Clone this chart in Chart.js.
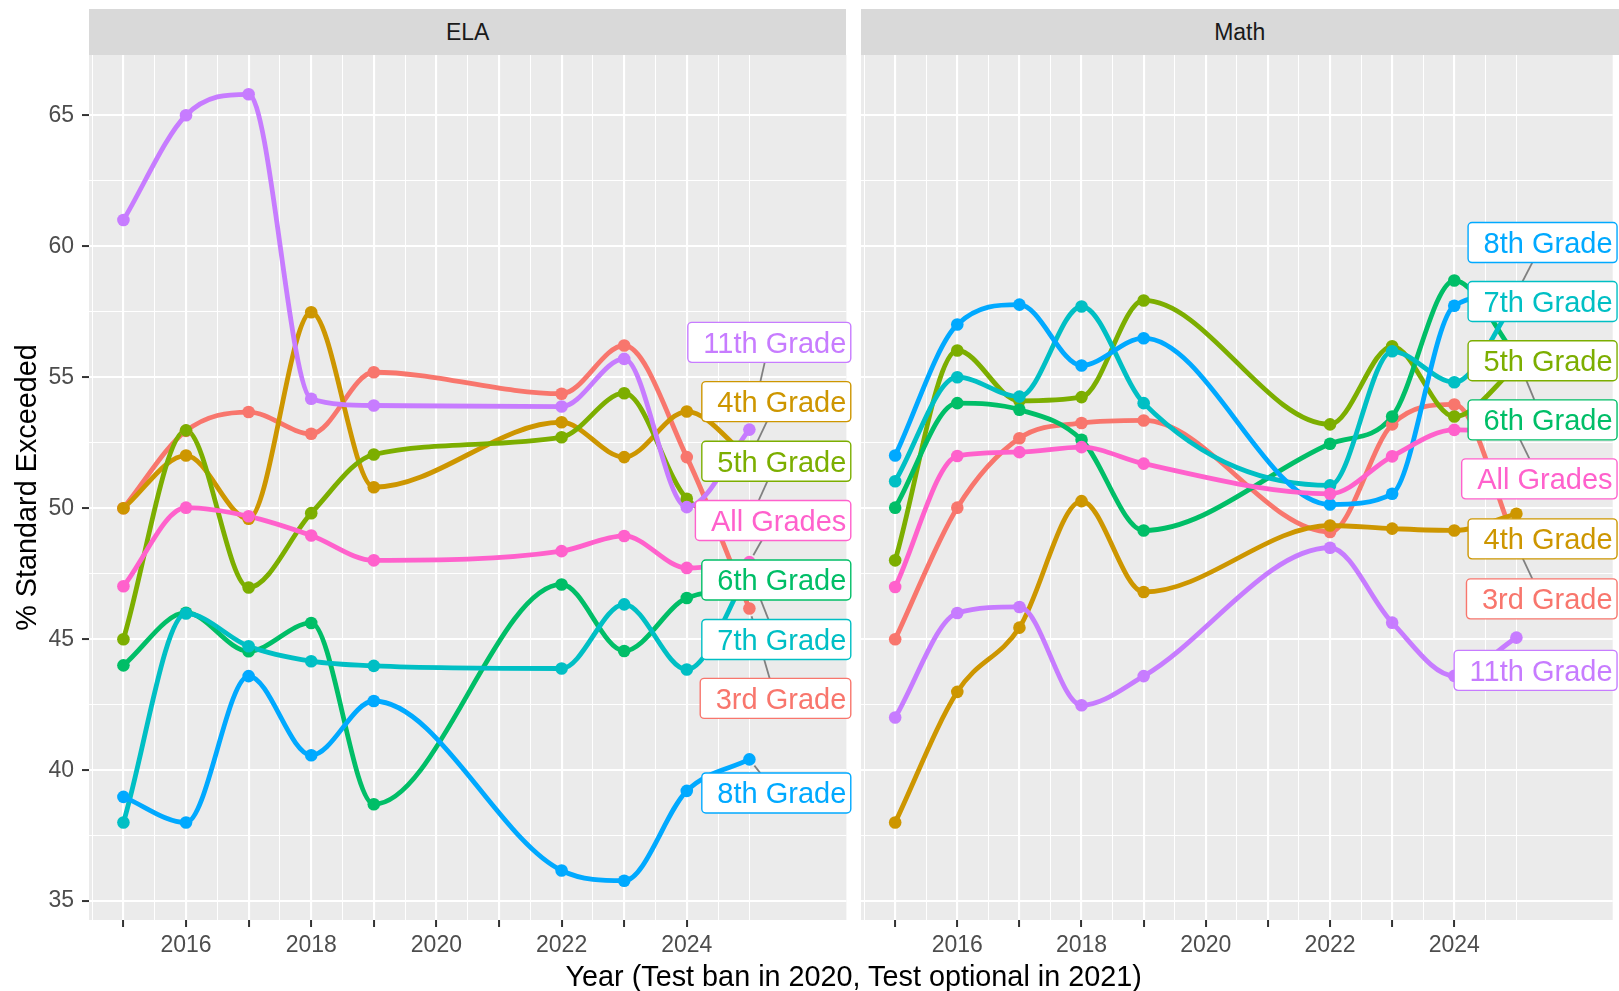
<!DOCTYPE html>
<html>
<head>
<meta charset="utf-8">
<script src="https://cdn.jsdelivr.net/npm/chart.js@4.4.1/dist/chart.umd.min.js"></script>
<style>
  html, body { margin: 0; padding: 0; background: #fff; }
  #wrap { position: relative; width: 1619px; height: 991px; overflow: hidden; font-family: "Liberation Sans", Arial, sans-serif; }
  #wrap canvas { position: absolute; left: 0; top: 0; }
  .strip { position: absolute; top: 9px; height: 46px; background: #D9D9D9; color: #1A1A1A; font-size: 23px; line-height: 46px; text-align: center; }
  #xtitle { position: absolute; left: 853.7px; top: 959px; transform: translateX(-50%); font-size: 28.8px; line-height: 34px; color: #000; white-space: nowrap; }
</style>
</head>
<body>
<div id="wrap">
  <canvas id="ela" width="1619" height="991"></canvas>
  <canvas id="math" width="1619" height="991"></canvas>
  <div class="strip" style="left:89px;width:757.4px">ELA</div>
  <div class="strip" style="left:861px;width:757.5px">Math</div>
  <div id="xtitle">Year (Test ban in 2020, Test optional in 2021)</div>
</div>
<script>
// test years (no test in 2020 / 2021)
const years = [2015, 2016, 2017, 2018, 2019, 2022, 2023, 2024, 2025];
const grades = ['3rd Grade', '4th Grade', '5th Grade', '6th Grade', '7th Grade', '8th Grade', '11th Grade', 'All Grades'];
const colors = ['#F8766D', '#CD9600', '#7CAE00', '#00BE67', '#00BFC4', '#00A9FF', '#C77CFF', '#FF61CC'];

// % standard exceeded, ELA
const ela3rd  = [50.0, 52.95, 53.67, 52.84, 55.19, 54.37, 56.21, 51.95, 46.17];
const ela4th  = [50.0, 52.01, 49.6, 57.48, 50.8, 53.28, 51.95, 53.69, 51.9];
const ela5th  = [45.0, 52.97, 46.97, 49.81, 52.05, 52.71, 54.39, 50.36, 49.5];
const ela6th  = [44.0, 46.01, 44.54, 45.62, 38.7, 47.09, 44.55, 46.57, 46.9];
const ela7th  = [38.0, 45.98, 44.73, 44.16, 43.98, 43.88, 46.33, 43.84, 47.6];
const ela8th  = [38.98, 38.0, 43.59, 40.57, 42.64, 36.17, 35.78, 39.21, 40.41];
const ela11th = [61.0, 65.0, 65.8, 54.18, 53.92, 53.88, 55.7, 50.04, 53.0];
const elaAll  = [47.02, 50.02, 49.69, 48.96, 48.01, 48.36, 48.94, 47.72, 47.94];

// % standard exceeded, Math
const math3rd  = [45.0, 50.02, 52.67, 53.25, 53.35, 49.09, 53.2, 53.96, 48.6];
const math4th  = [38.0, 42.99, 45.44, 50.27, 46.8, 49.34, 49.22, 49.15, 49.79];
const math5th  = [48.01, 56.02, 54.1, 54.24, 57.93, 53.2, 56.18, 53.5, 55.4];
const math6th  = [50.02, 54.01, 53.76, 52.61, 49.15, 52.46, 53.5, 58.69, 55.8];
const math7th  = [51.03, 55.0, 54.26, 57.7, 54.01, 50.87, 55.99, 54.81, 58.0];
const math8th  = [52.01, 57.01, 57.77, 55.45, 56.49, 50.14, 50.55, 57.73, 58.2];
const math11th = [42.01, 46.0, 46.23, 42.48, 43.59, 48.49, 45.63, 43.6, 45.06];
const mathAll  = [46.99, 51.99, 52.14, 52.33, 51.7, 50.55, 51.98, 52.99, 52.9];

// where the repelled end labels sit (y in data units), same order as grades
const elaLabelY  = [42.74, 54.07, 51.79, 47.26, 44.99, 39.13, 56.33, 49.53];
const mathLabelY = [46.54, 48.83, 55.63, 53.37, 57.89, 60.14, 43.81, 51.12];
const labelRightX = 2026.62;

// axes
const xBreaks = [2015, 2016, 2017, 2018, 2019, 2020, 2021, 2022, 2023, 2024];
const xLabelYears = [2016, 2018, 2020, 2022, 2024];
const yBreaks = [35, 40, 45, 50, 55, 60, 65];
const xLimits = [2014.45, 2026.55];
const yLimits = [34.28, 67.3];

const FONT = '"Liberation Sans", Arial, sans-serif';
Chart.defaults.font.family = FONT;

// ggplot-like minor breaks: halfway points, one step past the ends
function withMinor(breaks, lim) {
  const step = breaks[1] - breaks[0];
  const ext = [breaks[0] - step, ...breaks, breaks[breaks.length - 1] + step];
  const out = [];
  for (let i = 0; i < ext.length; i++) {
    out.push(ext[i]);
    if (i < ext.length - 1) out.push(ext[i] + step / 2);
  }
  return out.filter(v => v >= lim[0] && v <= lim[1]);
}
const xGrid = withMinor(xBreaks, xLimits);
const yGrid = withMinor(yBreaks, yLimits);

const panelBg = {
  id: 'panelBg',
  beforeDraw(chart) {
    const a = chart.chartArea, ctx = chart.ctx;
    ctx.save();
    ctx.fillStyle = '#EBEBEB';
    ctx.fillRect(a.left, a.top, a.right - a.left, a.bottom - a.top);
    ctx.restore();
  }
};

function boxPath(ctx, x, y, w, h, r) {
  ctx.beginPath();
  ctx.moveTo(x + r, y);
  ctx.lineTo(x + w - r, y);
  ctx.arcTo(x + w, y, x + w, y + r, r);
  ctx.lineTo(x + w, y + h - r);
  ctx.arcTo(x + w, y + h, x + w - r, y + h, r);
  ctx.lineTo(x + r, y + h);
  ctx.arcTo(x, y + h, x, y + h - r, r);
  ctx.lineTo(x, y + r);
  ctx.arcTo(x, y, x + r, y, r);
  ctx.closePath();
}

function endLabels(series, labelY) {
  return {
    id: 'endLabels',
    afterDatasetsDraw(chart) {
      const ctx = chart.ctx, xs = chart.scales.x, ys = chart.scales.y;
      const last = years.length - 1;
      ctx.save();
      ctx.font = '29px ' + FONT;
      const boxes = grades.map((g, i) => {
        const right = xs.getPixelForValue(labelRightX);
        const cy = ys.getPixelForValue(labelY[i]);
        const w = ctx.measureText(g).width + 20;
        return { g, i, left: right - w, right, top: cy - 20, bottom: cy + 20, cy };
      });
      // segments from last point to its label
      ctx.strokeStyle = '#808080';
      ctx.lineWidth = 1.8;
      boxes.forEach(b => {
        const px = xs.getPixelForValue(years[last]);
        const py = ys.getPixelForValue(series[b.i][last]);
        if (px >= b.left && px <= b.right && py >= b.top && py <= b.bottom) return;
        const dx = (b.left + b.right) / 2 - px, dy = b.cy - py;
        let t = 0;
        if (px < b.left) t = Math.max(t, (b.left - px) / dx);
        if (px > b.right) t = Math.max(t, (b.right - px) / dx);
        if (py < b.top) t = Math.max(t, (b.top - py) / dy);
        if (py > b.bottom) t = Math.max(t, (b.bottom - py) / dy);
        const len = Math.hypot(dx * t, dy * t);
        if (len < 15) return;
        const s = 8 / len;
        ctx.beginPath();
        ctx.moveTo(px + dx * t * s, py + dy * t * s);
        ctx.lineTo(px + dx * t, py + dy * t);
        ctx.stroke();
      });
      boxes.forEach(b => {
        boxPath(ctx, b.left, b.top, b.right - b.left, 40, 4);
        ctx.fillStyle = '#FFFFFF';
        ctx.fill();
        ctx.strokeStyle = colors[b.i];
        ctx.lineWidth = 1.4;
        ctx.stroke();
        ctx.fillStyle = colors[b.i];
        ctx.textAlign = 'right';
        ctx.textBaseline = 'alphabetic';
        ctx.fillText(b.g, b.right - 4.5, b.cy + 10.5);
      });
      ctx.restore();
    }
  };
}

function makeDatasets(series) {
  const sets = [];
  series.forEach((vals, i) => {
    const data = years.map((x, j) => ({ x: x, y: vals[j] }));
    sets.push({ label: grades[i], data: data, borderColor: colors[i], borderWidth: 4.8,
      pointRadius: 0, cubicInterpolationMode: 'monotone', fill: false, order: 100 - i });
    sets.push({ label: grades[i] + ' pts', data: data, showLine: false, pointRadius: 6.3,
      pointBackgroundColor: colors[i], pointBorderWidth: 0, order: 50 - i });
  });
  return sets;
}

function makeChart(id, series, labelY, isLeft) {
  const tickColor = '#333333';
  new Chart(document.getElementById(id), {
    type: 'line',
    data: { datasets: makeDatasets(series) },
    options: {
      responsive: false,
      animation: false,
      layout: { padding: isLeft ? { left: 0, right: 1619 - 846.4, top: 55, bottom: 0 }
                                : { left: 861, right: 0.5, top: 55, bottom: 0 } },
      plugins: { legend: { display: false }, tooltip: { enabled: false } },
      scales: {
        x: {
          type: 'linear',
          min: xLimits[0], max: xLimits[1],
          afterBuildTicks: s => { s.ticks = xGrid.map(v => ({ value: v })); },
          afterFit: s => { s.height = 71; },
          border: { display: false },
          grid: {
            color: '#FFFFFF',
            lineWidth: c => xBreaks.includes(c.tick.value) ? 2.1 : 1.05,
            tickColor: c => xBreaks.includes(c.tick.value) ? tickColor : 'rgba(0,0,0,0)',
            tickLength: 7, tickWidth: 2
          },
          ticks: {
            autoSkip: false, maxRotation: 0, minRotation: 0, padding: 5,
            color: '#4D4D4D', font: { size: 23 },
            callback: v => xLabelYears.includes(v) ? String(v) : ''
          }
        },
        y: {
          type: 'linear',
          min: yLimits[0], max: yLimits[1],
          afterBuildTicks: s => { s.ticks = yGrid.map(v => ({ value: v })); },
          afterFit: s => { s.width = isLeft ? 89 : 0; },
          border: { display: false },
          grid: {
            color: '#FFFFFF',
            lineWidth: c => yBreaks.includes(c.tick.value) ? 2.1 : 1.05,
            tickColor: c => yBreaks.includes(c.tick.value) ? tickColor : 'rgba(0,0,0,0)',
            tickLength: 7, tickWidth: 2, drawTicks: isLeft
          },
          ticks: {
            display: isLeft, padding: 8,
            color: '#4D4D4D', font: { size: 23 },
            callback: v => yBreaks.includes(v) ? String(v) : ''
          },
          title: {
            display: isLeft, text: '% Standard Exceeded', color: '#000000',
            font: { size: 28.8 }, padding: { top: 10.5, bottom: 4 }
          }
        }
      }
    },
    plugins: [panelBg, endLabels(series, labelY)]
  });
}

makeChart('ela', [ela3rd, ela4th, ela5th, ela6th, ela7th, ela8th, ela11th, elaAll], elaLabelY, true);
makeChart('math', [math3rd, math4th, math5th, math6th, math7th, math8th, math11th, mathAll], mathLabelY, false);
</script>
</body>
</html>
